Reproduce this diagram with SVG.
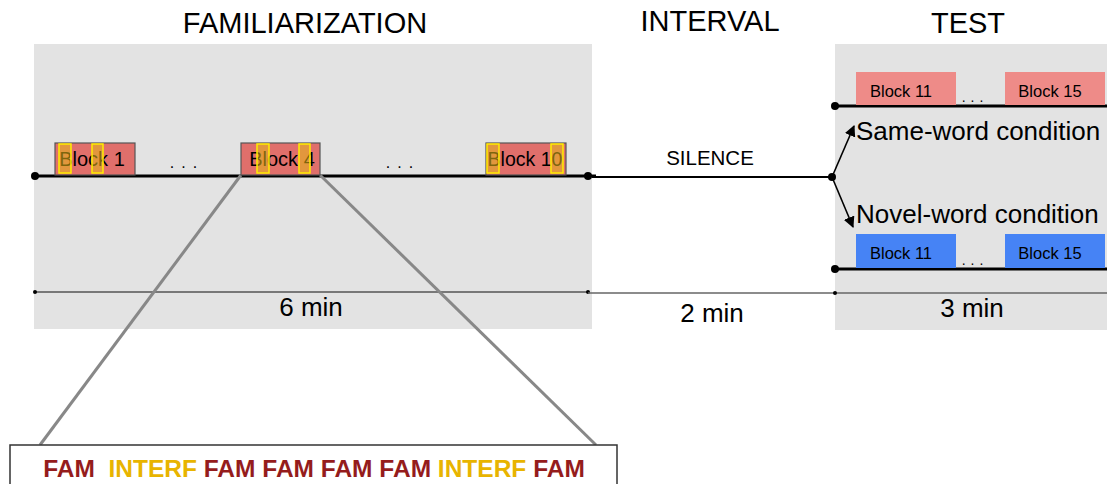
<svg xmlns="http://www.w3.org/2000/svg" width="1107" height="484" viewBox="0 0 1107 484">
  <style>
    .title { font-family: "Liberation Sans", Arial, sans-serif; font-size: 29px; fill: #000; text-anchor: middle; }
    .lbl { font-family: "Liberation Sans", Arial, sans-serif; fill: #000; }
    .panel { fill: #e3e3e3; }
    .fblock { fill: #e06f6b; stroke: #555; stroke-width: 1.2; }
    .sblock { fill: #ee8b88; }
    .nblock { fill: #4683f5; }
    .hl { fill: #e3b817; fill-opacity: 0.55; stroke: #ffee00; stroke-width: 1.5; }
    .fam { font-family: "Liberation Sans", Arial, sans-serif; font-weight: bold; font-size: 24.5px; fill: #951c1c; }
    .int { fill: #e8b400; }
  </style>
  <defs>
    <marker id="arr" viewBox="0 0 10 10" refX="9" refY="5" markerWidth="7" markerHeight="7" orient="auto-start-reverse">
      <path d="M0,0 L10,5 L0,10 z" fill="#000"/>
    </marker>
  </defs>

  <rect width="1107" height="484" fill="#fff"/>

  <!-- phase panels -->
  <rect class="panel" x="34" y="44" width="558" height="285"/>
  <rect class="panel" x="835" y="44" width="272" height="286"/>

  <text class="title" x="305" y="33">FAMILIARIZATION</text>
  <text class="title" x="710" y="31">INTERVAL</text>
  <text class="title" x="968" y="33">TEST</text>

  <!-- connectors and timelines -->
  <g id="connectors">
    <line x1="35" y1="176" x2="596" y2="176" stroke="#000" stroke-width="3"/>
    <circle cx="35" cy="176" r="4" fill="#000"/>
    <circle cx="588" cy="176" r="4" fill="#000"/>
    <line x1="592" y1="177" x2="832" y2="177" stroke="#000" stroke-width="2"/>
    <circle cx="832" cy="177" r="4" fill="#000"/>
    <line x1="832" y1="177" x2="854" y2="126" stroke="#000" stroke-width="1.6" marker-end="url(#arr)"/>
    <line x1="832" y1="177" x2="853" y2="227" stroke="#000" stroke-width="1.6" marker-end="url(#arr)"/>

    <!-- test timelines -->
    <line x1="835" y1="106" x2="1107" y2="106" stroke="#000" stroke-width="3"/>
    <circle cx="835" cy="106" r="4" fill="#000"/>
    <line x1="835" y1="269" x2="1107" y2="269" stroke="#000" stroke-width="3"/>
    <circle cx="835" cy="269" r="4" fill="#000"/>

    <!-- duration lines -->
    <line x1="35" y1="292" x2="588" y2="292" stroke="#555" stroke-width="1.5"/>
    <circle cx="35" cy="292" r="2" fill="#000"/>
    <circle cx="588" cy="292" r="2" fill="#000"/>
    <line x1="588" y1="293" x2="1107" y2="293" stroke="#666" stroke-width="1.5"/>
    <circle cx="835" cy="293" r="2" fill="#000"/>

    <!-- zoom-in lines to block detail -->
    <line x1="241" y1="175" x2="40" y2="445" stroke="#888" stroke-width="3"/>
    <line x1="320" y1="175" x2="596" y2="445" stroke="#888" stroke-width="3"/>
  </g>

  <!-- familiarization blocks -->
  <g id="block1">
    <rect class="fblock" x="55" y="143" width="80" height="32"/>
    <text class="lbl" x="92" y="166" font-size="20" text-anchor="middle">Block 1</text>
    <rect class="hl" x="59" y="144" width="12" height="29"/>
    <rect class="hl" x="92" y="144" width="11" height="29"/>
  </g>
  <g id="block4">
    <rect class="fblock" x="241" y="143" width="79" height="32"/>
    <text class="lbl" x="282" y="166" font-size="20" text-anchor="middle">Block 4</text>
    <rect class="hl" x="257" y="144" width="12" height="29"/>
    <rect class="hl" x="299" y="144" width="11" height="29"/>
  </g>
  <g id="block10">
    <rect class="fblock" x="486" y="143" width="80" height="32"/>
    <text class="lbl" x="525" y="166" font-size="19.5" text-anchor="middle">Block 10</text>
    <rect class="hl" x="487" y="144" width="12" height="29"/>
    <rect class="hl" x="551" y="144" width="12" height="29"/>
  </g>
  <text class="lbl" x="187" y="168" font-size="16" text-anchor="middle" letter-spacing="7">...</text>
  <text class="lbl" x="403" y="168" font-size="16" text-anchor="middle" letter-spacing="7">...</text>

  <g id="silence">
    <text class="lbl" x="710" y="165" font-size="20.5" text-anchor="middle">SILENCE</text>
  </g>

  <!-- test: same-word condition -->
  <g id="same-blocks">
    <rect class="sblock" x="856" y="72" width="100" height="33"/>
    <text class="lbl" x="901" y="97" font-size="16.5" text-anchor="middle">Block 11</text>
    <rect class="sblock" x="1005" y="72" width="100" height="33"/>
    <text class="lbl" x="1050" y="97" font-size="16.5" text-anchor="middle">Block 15</text>
    <text class="lbl" x="975" y="102" font-size="14" text-anchor="middle" letter-spacing="5">...</text>
  </g>
  <g id="same-label">
    <text class="lbl" x="856" y="140" font-size="26">Same-word condition</text>
  </g>
  <g id="novel-label">
    <text class="lbl" x="856" y="223" font-size="26">Novel-word condition</text>
  </g>
  <g id="novel-blocks">
    <rect class="nblock" x="856" y="234" width="100" height="34"/>
    <text class="lbl" x="901" y="259" font-size="16.5" text-anchor="middle">Block 11</text>
    <rect class="nblock" x="1005" y="234" width="100" height="34"/>
    <text class="lbl" x="1050" y="259" font-size="16.5" text-anchor="middle">Block 15</text>
    <text class="lbl" x="975" y="265" font-size="14" text-anchor="middle" letter-spacing="5">...</text>
  </g>

  <!-- durations -->
  <text class="lbl" x="311" y="316" font-size="26" text-anchor="middle">6 min</text>
  <text class="lbl" x="712" y="322" font-size="26" text-anchor="middle">2 min</text>
  <text class="lbl" x="972" y="317" font-size="26" text-anchor="middle">3 min</text>

  <!-- block detail -->
  <g id="block-detail">
    <rect x="10" y="445" width="607" height="50" fill="#fff" stroke="#333" stroke-width="1.5"/>
    <text class="fam" x="314" y="477" text-anchor="middle" xml:space="preserve"><tspan>FAM  </tspan><tspan class="int">INTERF</tspan><tspan> FAM FAM FAM FAM </tspan><tspan class="int">INTERF</tspan><tspan> FAM</tspan></text>
  </g>
</svg>
